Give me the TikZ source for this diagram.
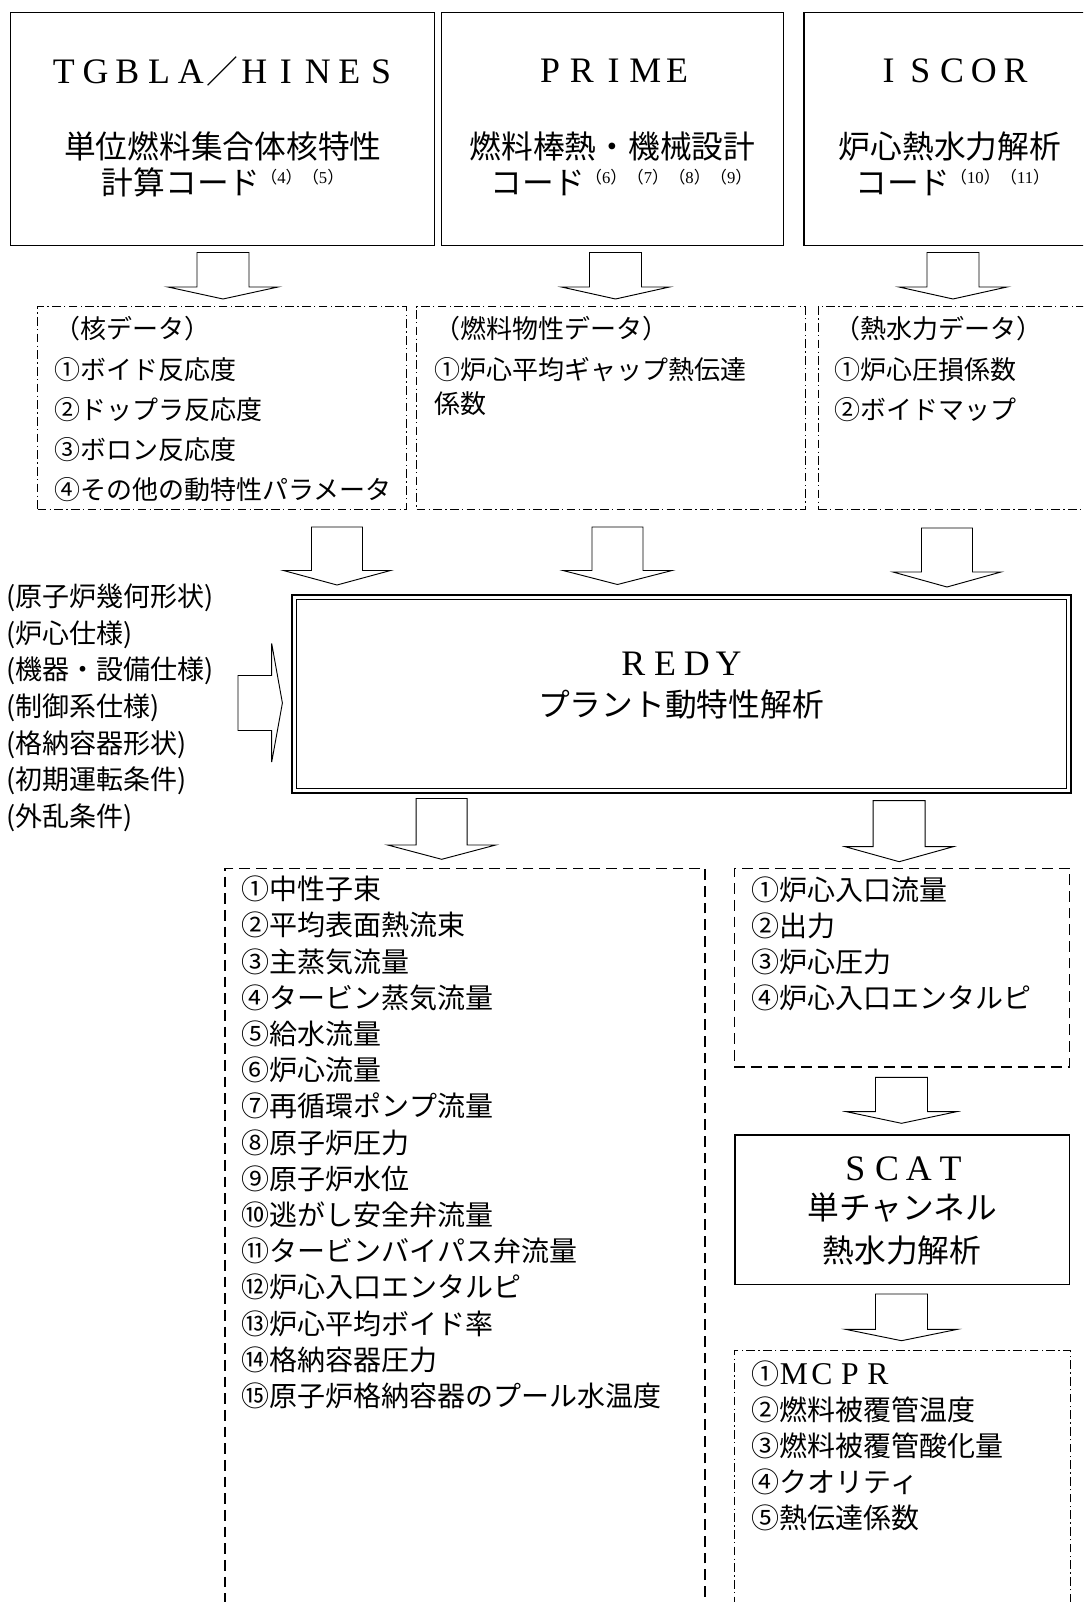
\documentclass[tikz,border=0pt]{standalone}
\usepackage{fontspec}
\usepackage{graphicx}
\setmainfont{Noto Sans CJK JP}
\newfontfamily\serifL{Liberation Serif}
\newcommand\fwl[1]{\makebox[1em][c]{\scalebox{1.13}{\serifL #1}}}
\newcommand\refs[1]{\raisebox{8pt}{\fontsize{12.5pt}{12.5pt}\selectfont #1}}
\newcommand\rn[1]{（{\serifL #1}）}
\newcommand\boxnode[6]{\node[#6, minimum width={(#4-#2)*0.75pt}, minimum height={(#5-#3)*0.75pt}] (#1) at ({(#2+#4)/2},{(#3+#5)/2}) {};}
\newcommand\blkdown[7]{% name, cx, ytop, yshaft, ytip, halfshaft, halfhead
  \draw[barrow] (#2-#6,#3) -- (#2+#6,#3) -- (#2+#6,#4) -- (#2+#7,#4) -- (#2,#5) coordinate (#1) -- (#2-#7,#4) -- (#2-#6,#4) -- cycle;}
\tikzset{
  sbox/.style={draw, line width=0.9pt, inner sep=0pt, outer sep=0pt},
  ddbox/.style={draw, line width=0.7pt, dash pattern=on 6.5pt off 2.5pt on 1pt off 2.5pt, inner sep=0pt, outer sep=0pt},
  dbox/.style={draw, line width=1.2pt, dash pattern=on 8pt off 4.5pt, inner sep=0pt, outer sep=0pt},
  barrow/.style={draw, line width=0.7pt, line join=miter},
  big/.style={font=\fontsize{23.8pt}{28pt}\selectfont, inner sep=0pt},
  lstA/.style={font=\fontsize{19.5pt}{24pt}\selectfont, inner sep=0pt, anchor=west},
  lstB/.style={font=\fontsize{21pt}{25pt}\selectfont, inner sep=0pt, anchor=west},
  lstC/.style={font=\fontsize{20.25pt}{24pt}\selectfont, inner sep=0pt, anchor=west}
}
\begin{document}
\begin{tikzpicture}[x=0.75pt,y=-0.75pt]
\useasboundingbox (0,0) rectangle (1083,1602);
\fill[white] (0,0) rectangle (1083,1602);
\clip (0,0) rectangle (1083,1602);

% top solid boxes
\boxnode{tg}{10.5}{12.3}{434.5}{245.5}{sbox}
\boxnode{pr}{441.2}{12.3}{783.6}{245.5}{sbox}
\boxnode{is}{804}{12.3}{1100}{245.5}{sbox}

\node[big] (tgT) at (222.5,71) {\fwl{T}\fwl{G}\fwl{B}\fwl{L}\fwl{A}／\fwl{H}\fwl{I}\fwl{N}\fwl{E}\fwl{S}};
\node[big] (tgA) at (222.8,146) {単位燃料集合体核特性};
\node[big, anchor=base west] (tgB) at (101.7,194) {計算コード\refs{\rn{4}\rn{5}}};

\node[big] (prT) at (613.5,71) {\fwl{P}\fwl{R}\fwl{I}\fwl{M}\fwl{E}};
\node[big] (prA) at (612.5,146) {燃料棒熱・機械設計};
\node[big, anchor=base west] (prB) at (490,194) {コード\refs{\rn{6}\rn{7}\rn{8}\rn{9}}};

\node[big] (isT) at (952,71) {\fwl{I}\fwl{S}\fwl{C}\fwl{O}\fwl{R}};
\node[big] (isA) at (950,146) {炉心熱水力解析};
\node[big, anchor=base west] (isB) at (855,194) {コード\refs{\rn{10}\rn{11}}};

% top arrows
\blkdown{a1}{223}{252.5}{287}{299}{26}{55}
\blkdown{a2}{615.5}{252.5}{287}{299}{26}{54}
\blkdown{a3}{953}{252.5}{287}{299}{26}{54}

% data boxes
\boxnode{kd}{37.6}{306.6}{406}{509.5}{ddbox}
\boxnode{fd}{416.5}{306.6}{805}{509.5}{ddbox}
\boxnode{td}{818}{306.6}{1100}{509.5}{ddbox}

\foreach \t [count=\i] in {（核データ）,①ボイド反応度,②ドップラ反応度,③ボロン反応度,④その他の動特性パラメータ}
  \node[lstA] (kd\i) at (54,{329+40.2*(\i-1)}) {\t};
\node[lstA] (fd1) at (434,329) {（燃料物性データ）};
\node[lstA] (fd2) at (434,370) {①炉心平均ギャップ熱伝達};
\node[lstA] (fd3) at (434,404) {係数};
\node[lstA] (td1) at (834,329) {（熱水力データ）};
\node[lstA] (td2) at (834,370) {①炉心圧損係数};
\node[lstA] (td3) at (834,410) {②ボイドマップ};

% middle arrows
\blkdown{b1}{337}{527}{570.5}{585}{25.5}{53.5}
\blkdown{b2}{617.5}{527}{570.5}{584.5}{25.5}{54.5}
\blkdown{b3}{947}{528}{572}{587}{25.5}{54}

% REDY box
\boxnode{redy}{292}{595}{1070.5}{793}{sbox, line width=1.5pt}
\boxnode{redyin}{296.5}{599.5}{1066}{788.5}{sbox, line width=0.6pt}
\node[big] (redyT) at (681,664) {\fwl{R}\fwl{E}\fwl{D}\fwl{Y}};
\node[big] (redyA) at (681,704) {プラント動特性解析};

% left inputs
\foreach \t [count=\i] in {(原子炉幾何形状),(炉心仕様),(機器・設備仕様),(制御系仕様),(格納容器形状),(初期運転条件),(外乱条件)}
  \node[lstC] (in\i) at (6,{598+36.6*(\i-1)}) {\t};
\draw[barrow] (238,675.5) -- (271.7,675.5) -- (271.7,643.5) -- (282.4,703) coordinate (ain) -- (271.7,762) -- (271.7,730.5) -- (238,730.5) -- cycle;

% arrows from REDY
\blkdown{c1}{441.7}{798.5}{845}{859.3}{25.5}{54}
\blkdown{c2}{899.2}{800.7}{846.7}{861.7}{26}{54}

% output boxes
\boxnode{out}{225}{868.3}{705}{1650}{dbox}
\boxnode{rin}{734.3}{868.3}{1069.3}{1066.7}{dbox}

\foreach \t [count=\i] in {①中性子束,②平均表面熱流束,③主蒸気流量,④タービン蒸気流量,⑤給水流量,⑥炉心流量,⑦再循環ポンプ流量,⑧原子炉圧力,⑨原子炉水位,⑩逃がし安全弁流量,⑪タービンバイパス弁流量,⑫炉心入口エンタルピ,⑬炉心平均ボイド率,⑭格納容器圧力,⑮原子炉格納容器のプール水温度}
  \node[lstB] (o\i) at (241.7,{889+36.2*(\i-1)}) {\t};
\foreach \t [count=\i] in {①炉心入口流量,②出力,③炉心圧力,④炉心入口エンタルピ}
  \node[lstB] (r\i) at (751.7,{890+35.8*(\i-1)}) {\t};

\blkdown{d1}{901.5}{1077.3}{1111.7}{1123.3}{26}{55}

% SCAT
\boxnode{scat}{735}{1135}{1069.3}{1284.3}{sbox}
\node[big] (scT) at (903,1169) {\fwl{S}\fwl{C}\fwl{A}\fwl{T}};
\node[big] (scA) at (902.5,1208) {単チャンネル};
\node[big] (scB) at (902,1250) {熱水力解析};

\blkdown{e1}{901.5}{1294}{1329.3}{1340.7}{26}{56}

\boxnode{sout}{734.3}{1350.7}{1070}{1650}{ddbox}
\foreach \t [count=\i] in {①\fwl{M}\fwl{C}\fwl{P}\fwl{R},②燃料被覆管温度,③燃料被覆管酸化量,④クオリティ,⑤熱伝達係数}
  \node[lstB] (s\i) at (751.7,{1373.5+36.2*(\i-1)}) {\t};
\end{tikzpicture}
\end{document}
